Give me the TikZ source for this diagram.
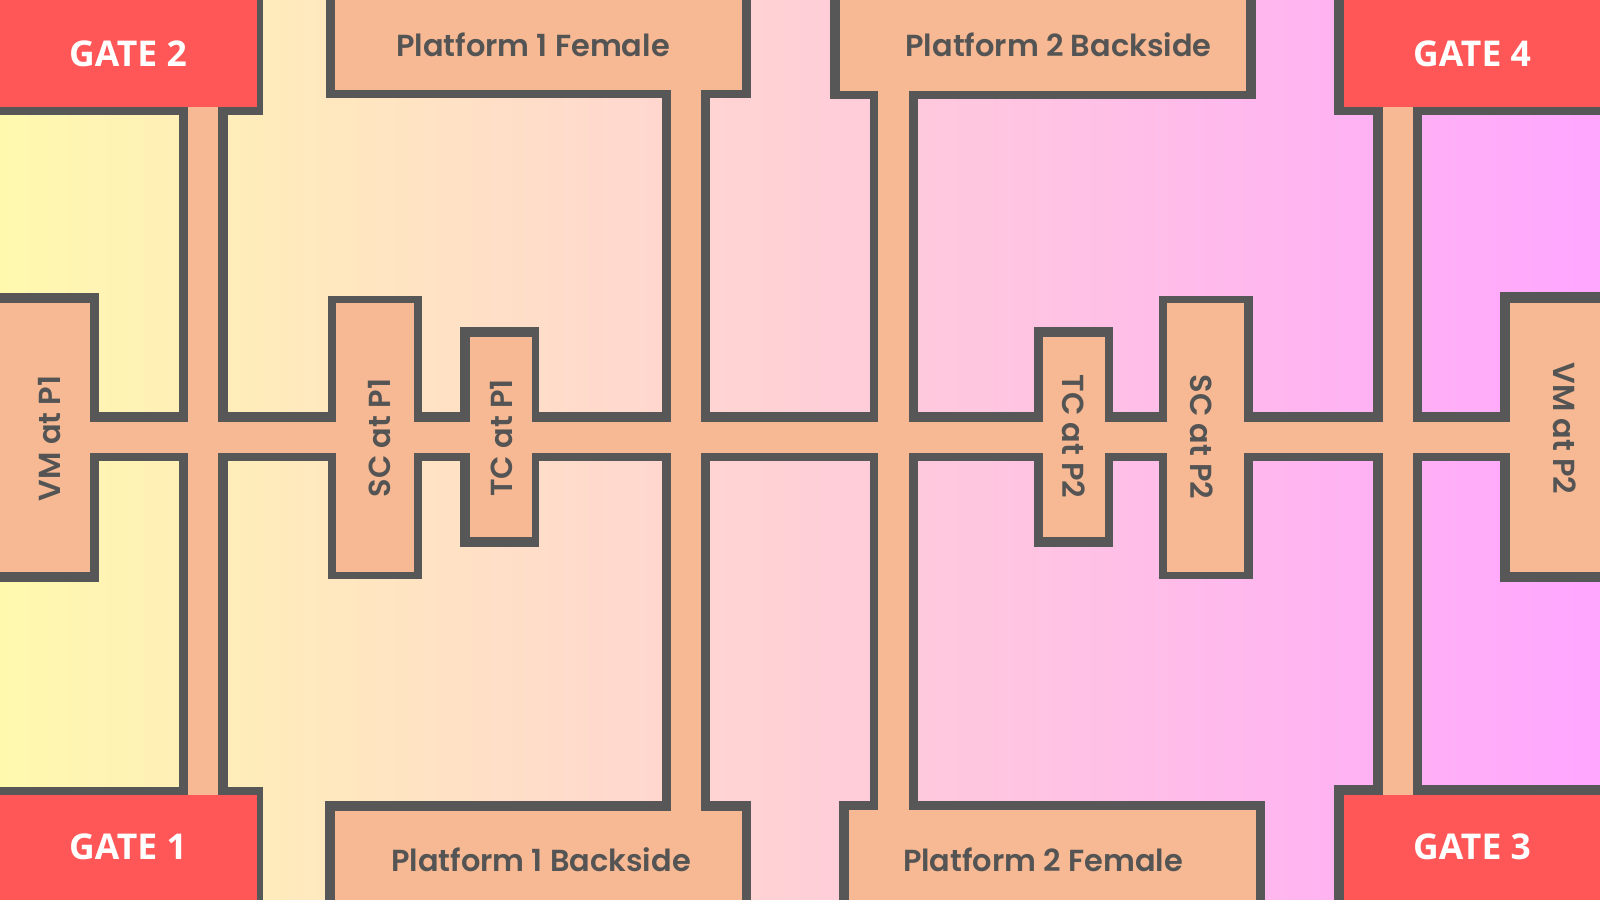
\documentclass[tikz,border=0pt]{standalone}
\usepackage{fontspec}
\setmainfont{Poppins}
\newfontfamily\labelfont{Poppins}[BoldFont={* SemiBold}]
\newfontfamily\gatefont{Open Sans}
\definecolor{wallgray}{HTML}{575757}
\definecolor{floorpeach}{HTML}{F6B993}
\definecolor{gatered}{HTML}{FF5757}
\definecolor{bgyellow}{HTML}{FFF9AE}
\definecolor{bgmagenta}{HTML}{FFA6FF}
\definecolor{inkgray}{HTML}{545454}
\tikzset{
  wallshape/.style={fill=wallgray,draw=none},
  floorshape/.style={fill=floorpeach,draw=none},
  gateshape/.style={fill=gatered,draw=none},
  placelabel/.style={text=inkgray,anchor=base,inner sep=0pt,font=\labelfont\bfseries\fontsize{8.65}{10}\selectfont},
  gatelabel/.style={text=white,anchor=base,inner sep=0pt,font=\gatefont\bfseries\fontsize{10.1}{12}\selectfont},
}
\begin{document}
\begin{tikzpicture}[x=0.01cm,y=-0.01cm]
\useasboundingbox (0,0) rectangle (1600,900);
\clip (0,0) rectangle (1600,900);
\shade[left color=bgyellow,right color=bgmagenta,draw=none] (0,0) rectangle (1600,900);
% outer wall outlines
\foreach \xa/\ya/\xb/\yb in {
  0/0/263/115, 0/787/263/900, 1334/0/1600/115, 1334/785/1600/900,
  179/100/227.5/800, 662/90/710/810, 869.5/90/917.5/810, 1373/100/1422/800,
  90/412/1510/461,
  326/0/751/97.5, 830/0/1255.5/99, 325/801/751/900, 839/801/1265/900,
  0/293/99/582, 328/296/422/578.7, 460/327/539/547,
  1034/327/1113/547, 1159/296/1252.5/578.7, 1500/292/1600/582}
  {\fill[wallshape] (\xa,\ya) rectangle (\xb,\yb);}
% floor areas
\foreach \xa/\ya/\xb/\yb in {
  187.5/100/218/800, 671/85/701/815, 877.5/85/908.5/815, 1382.5/100/1412.5/800,
  85/422/1515/452.7,
  335/0/742/90, 840/0/1246/91, 335/811/742/900, 849/810/1255.5/900,
  0/302.7/90/572, 336/302.7/414/572, 470/337/532/536.7,
  1043/337/1105/536.7, 1167/302.7/1244/572, 1510/302.7/1600/572}
  {\fill[floorshape] (\xa,\ya) rectangle (\xb,\yb);}
% gates
\foreach \xa/\ya/\xb/\yb in {0/0/257/107, 0/795/257/900, 1344/0/1600/107, 1344/795/1600/900}
  {\fill[gateshape] (\xa,\ya) rectangle (\xb,\yb);}
% labels
\node[gatelabel] (g2) at (128,66) {GATE 2};
\node[gatelabel] (g1) at (128,859) {GATE 1};
\node[gatelabel] (g4) at (1472,66) {GATE 4};
\node[gatelabel] (g3) at (1472,859) {GATE 3};
\node[placelabel] (p1f) at (533,56) {Platform 1 Female};
\node[placelabel] (p1b) at (541,871) {Platform 1 Backside};
\node[placelabel] (p2b) at (1058.5,56.5) {Platform 2 Backside};
\node[placelabel] (p2f) at (1043,871) {Platform 2 Female};
\node[placelabel,rotate=90] (vm1) at (60.7,438.5) {VM at P1};
\node[placelabel,rotate=90] (sc1) at (390,438) {SC at P1};
\node[placelabel,rotate=90] (tc1) at (512.5,438) {TC at P1};
\node[placelabel,rotate=-90] (tc2) at (1062,436.5) {TC at P2};
\node[placelabel,rotate=-90] (sc2) at (1190,437) {SC at P2};
\node[placelabel,rotate=-90] (vm2) at (1553.8,428.5) {VM at P2};
\end{tikzpicture}
\end{document}
